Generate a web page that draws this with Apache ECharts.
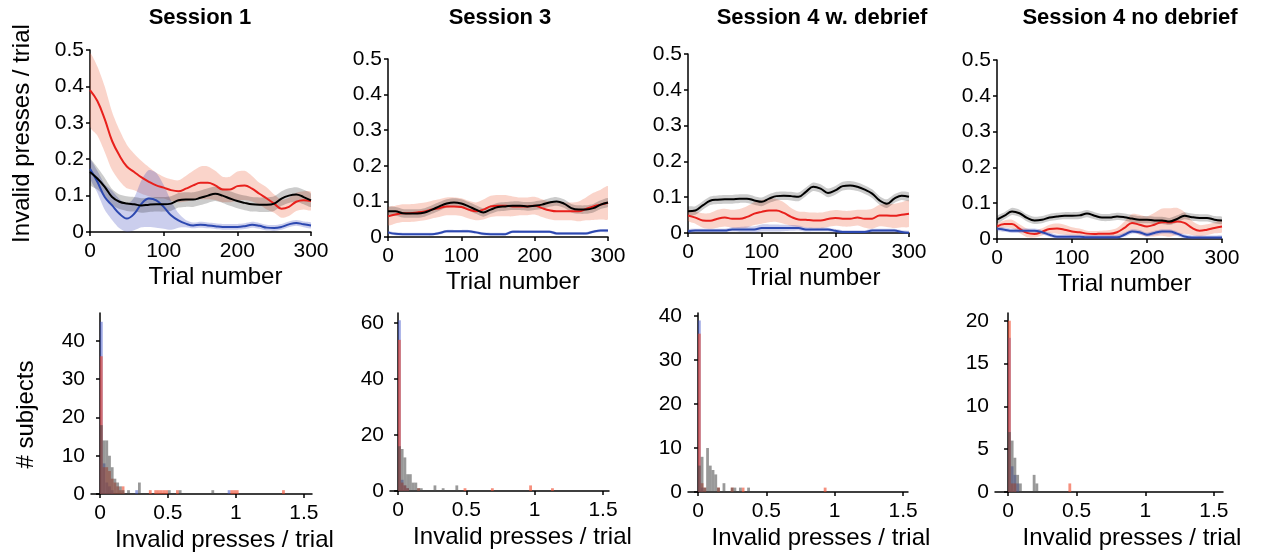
<!DOCTYPE html>
<html>
<head>
<meta charset="utf-8">
<script src="https://cdn.jsdelivr.net/npm/echarts@6/dist/echarts.min.js"></script>
<style>
  html, body { margin: 0; padding: 0; background: #fff; }
  #chart { width: 1261px; height: 559px; }
</style>
</head>
<body>
<div id="chart"></div>
<script>
// trial positions of the smoothed curves
var trials = [0, 10, 20, 30, 40, 50, 60, 70, 80, 90, 100, 110, 120, 130, 140, 150,
  160, 170, 180, 190, 200, 210, 220, 230, 240, 250, 260, 270, 280, 290, 300];

var sessionNames = ['Session 1', 'Session 3', 'Session 4 w. debrief', 'Session 4 no debrief'];

// Session 1
var s1Red = [0.39, 0.36, 0.31, 0.25, 0.21, 0.18, 0.165, 0.15, 0.138, 0.128, 0.122, 0.115, 0.112, 0.119, 0.128, 0.135, 0.135, 0.128, 0.117, 0.117, 0.126, 0.128, 0.119, 0.105, 0.092, 0.078, 0.064, 0.069, 0.083, 0.087, 0.085];
var s1RedSd = [0.1, 0.095, 0.09, 0.08, 0.07, 0.06, 0.05, 0.045, 0.04, 0.035, 0.03, 0.03, 0.03, 0.035, 0.04, 0.045, 0.045, 0.04, 0.035, 0.035, 0.04, 0.04, 0.035, 0.03, 0.03, 0.025, 0.025, 0.025, 0.025, 0.025, 0.025];
var s1Black = [0.165, 0.147, 0.124, 0.096, 0.083, 0.078, 0.076, 0.073, 0.075, 0.076, 0.076, 0.078, 0.087, 0.089, 0.089, 0.094, 0.1, 0.105, 0.1, 0.092, 0.085, 0.08, 0.076, 0.075, 0.075, 0.078, 0.092, 0.1, 0.103, 0.096, 0.087];
var s1BlackSd = [0.035, 0.03, 0.025, 0.022, 0.02, 0.02, 0.02, 0.02, 0.02, 0.02, 0.02, 0.02, 0.02, 0.02, 0.02, 0.02, 0.02, 0.02, 0.02, 0.02, 0.02, 0.02, 0.02, 0.02, 0.02, 0.02, 0.02, 0.02, 0.02, 0.02, 0.018];
var s1Blue = [0.174, 0.138, 0.096, 0.073, 0.05, 0.037, 0.05, 0.078, 0.092, 0.087, 0.069, 0.046, 0.032, 0.023, 0.018, 0.02, 0.018, 0.016, 0.014, 0.014, 0.014, 0.016, 0.02, 0.017, 0.012, 0.011, 0.014, 0.021, 0.025, 0.021, 0.018];
var s1BlueSd = [0.025, 0.03, 0.035, 0.04, 0.04, 0.04, 0.045, 0.065, 0.078, 0.075, 0.06, 0.04, 0.02, 0.01, 0.008, 0.008, 0.008, 0.008, 0.008, 0.008, 0.008, 0.008, 0.008, 0.008, 0.008, 0.008, 0.008, 0.008, 0.008, 0.008, 0.008];

// Session 3
var s3Red = [0.058, 0.063, 0.067, 0.067, 0.069, 0.072, 0.077, 0.081, 0.086, 0.086, 0.084, 0.077, 0.072, 0.077, 0.086, 0.088, 0.088, 0.086, 0.086, 0.086, 0.088, 0.081, 0.075, 0.072, 0.072, 0.072, 0.072, 0.079, 0.086, 0.091, 0.096];
var s3RedSd = [0.025, 0.025, 0.025, 0.025, 0.025, 0.025, 0.025, 0.025, 0.025, 0.025, 0.025, 0.025, 0.025, 0.028, 0.03, 0.03, 0.03, 0.028, 0.025, 0.025, 0.025, 0.025, 0.025, 0.025, 0.025, 0.025, 0.028, 0.032, 0.038, 0.042, 0.046];
var s3Black = [0.072, 0.072, 0.067, 0.066, 0.066, 0.069, 0.077, 0.086, 0.094, 0.097, 0.094, 0.086, 0.077, 0.069, 0.077, 0.084, 0.086, 0.088, 0.088, 0.086, 0.088, 0.091, 0.097, 0.1, 0.094, 0.081, 0.077, 0.077, 0.081, 0.091, 0.097];
var s3BlackSd = [0.012, 0.012, 0.012, 0.012, 0.012, 0.012, 0.012, 0.012, 0.012, 0.012, 0.012, 0.012, 0.012, 0.012, 0.012, 0.012, 0.012, 0.012, 0.012, 0.012, 0.012, 0.012, 0.012, 0.012, 0.012, 0.012, 0.012, 0.012, 0.012, 0.012, 0.012];
var s3Blue = [0.013, 0.009, 0.008, 0.008, 0.008, 0.008, 0.008, 0.011, 0.016, 0.016, 0.016, 0.016, 0.013, 0.009, 0.008, 0.008, 0.008, 0.015, 0.015, 0.015, 0.015, 0.015, 0.015, 0.01, 0.01, 0.01, 0.01, 0.01, 0.015, 0.018, 0.018];
var s3BlueSd = [0.004, 0.004, 0.004, 0.004, 0.004, 0.004, 0.004, 0.004, 0.004, 0.004, 0.004, 0.004, 0.004, 0.004, 0.004, 0.004, 0.004, 0.004, 0.004, 0.004, 0.004, 0.004, 0.004, 0.004, 0.004, 0.004, 0.004, 0.004, 0.004, 0.004, 0.004];

// Session 4 with debrief
var s4wRed = [0.049, 0.043, 0.035, 0.034, 0.04, 0.043, 0.04, 0.04, 0.045, 0.054, 0.059, 0.063, 0.063, 0.056, 0.045, 0.038, 0.037, 0.035, 0.035, 0.039, 0.042, 0.04, 0.04, 0.043, 0.04, 0.04, 0.049, 0.049, 0.048, 0.051, 0.054];
var s4wRedSd = [0.015, 0.017, 0.02, 0.022, 0.025, 0.025, 0.025, 0.027, 0.03, 0.032, 0.033, 0.033, 0.032, 0.03, 0.025, 0.022, 0.022, 0.022, 0.022, 0.022, 0.022, 0.022, 0.022, 0.022, 0.025, 0.028, 0.03, 0.032, 0.034, 0.035, 0.036];
var s4wBlack = [0.061, 0.063, 0.077, 0.09, 0.093, 0.094, 0.094, 0.096, 0.096, 0.091, 0.087, 0.096, 0.103, 0.104, 0.103, 0.101, 0.115, 0.129, 0.124, 0.112, 0.119, 0.131, 0.133, 0.129, 0.121, 0.11, 0.091, 0.082, 0.096, 0.104, 0.101];
var s4wBlackSd = [0.012, 0.012, 0.012, 0.012, 0.012, 0.012, 0.012, 0.012, 0.012, 0.012, 0.012, 0.012, 0.012, 0.012, 0.012, 0.012, 0.012, 0.012, 0.012, 0.012, 0.012, 0.012, 0.012, 0.012, 0.012, 0.012, 0.012, 0.012, 0.012, 0.012, 0.012];
var s4wBlue = [0.005, 0.007, 0.007, 0.007, 0.007, 0.007, 0.01, 0.01, 0.01, 0.01, 0.014, 0.014, 0.014, 0.014, 0.014, 0.014, 0.01, 0.01, 0.01, 0.01, 0.006, 0.003, 0.003, 0.003, 0.003, 0.007, 0.007, 0.007, 0.007, 0.003, 0.001];
var s4wBlueSd = [0.005, 0.005, 0.005, 0.005, 0.005, 0.005, 0.006, 0.007, 0.008, 0.009, 0.01, 0.01, 0.01, 0.009, 0.008, 0.007, 0.006, 0.005, 0.005, 0.005, 0.005, 0.005, 0.005, 0.005, 0.005, 0.005, 0.005, 0.005, 0.005, 0.005, 0.005];

// Session 4 without debrief
var s4nRed = [0.035, 0.042, 0.042, 0.029, 0.017, 0.014, 0.02, 0.028, 0.029, 0.026, 0.021, 0.019, 0.015, 0.014, 0.015, 0.015, 0.019, 0.031, 0.045, 0.04, 0.035, 0.04, 0.047, 0.046, 0.049, 0.045, 0.031, 0.023, 0.026, 0.031, 0.035];
var s4nRedSd = [0.008, 0.01, 0.012, 0.012, 0.012, 0.01, 0.01, 0.012, 0.014, 0.014, 0.012, 0.01, 0.008, 0.008, 0.008, 0.01, 0.012, 0.018, 0.025, 0.028, 0.028, 0.033, 0.038, 0.04, 0.038, 0.03, 0.02, 0.016, 0.015, 0.015, 0.016];
var s4nBlack = [0.054, 0.065, 0.077, 0.072, 0.059, 0.052, 0.054, 0.06, 0.063, 0.065, 0.065, 0.066, 0.071, 0.065, 0.06, 0.06, 0.063, 0.061, 0.057, 0.054, 0.054, 0.052, 0.052, 0.049, 0.056, 0.065, 0.061, 0.059, 0.059, 0.054, 0.052];
var s4nBlackSd = [0.01, 0.01, 0.01, 0.01, 0.01, 0.01, 0.01, 0.01, 0.01, 0.01, 0.01, 0.01, 0.01, 0.01, 0.01, 0.01, 0.01, 0.01, 0.01, 0.01, 0.01, 0.01, 0.01, 0.01, 0.01, 0.01, 0.01, 0.01, 0.01, 0.01, 0.01];
var s4nBlue = [0.029, 0.026, 0.023, 0.023, 0.023, 0.023, 0.019, 0.012, 0.006, 0.006, 0.006, 0.006, 0.005, 0.005, 0.005, 0.005, 0.005, 0.012, 0.021, 0.019, 0.012, 0.017, 0.021, 0.021, 0.015, 0.007, 0.004, 0.004, 0.004, 0.004, 0.004];
var s4nBlueSd = [0.006, 0.006, 0.006, 0.006, 0.006, 0.006, 0.006, 0.006, 0.006, 0.006, 0.006, 0.006, 0.006, 0.006, 0.006, 0.006, 0.006, 0.006, 0.006, 0.006, 0.006, 0.006, 0.006, 0.006, 0.006, 0.006, 0.006, 0.006, 0.006, 0.006, 0.006];

// histograms: [bin left edge, number of subjects], bins of 0.02
var h1Blue = [[0, 45], [0.02, 8], [0.04, 3], [0.06, 2], [0.08, 1], [0.26, 1], [0.94, 1]];
var h1Orange = [[0, 36], [0.02, 7], [0.04, 7], [0.06, 6], [0.08, 4], [0.1, 3], [0.12, 2], [0.14, 1], [0.16, 2], [0.36, 1], [0.4, 1], [0.42, 1], [0.44, 1], [0.46, 1], [0.48, 1], [0.56, 1], [0.96, 1], [0.98, 1], [1.0, 1], [1.34, 1]];
var h1Gray = [[0, 18], [0.02, 14], [0.04, 14], [0.06, 10], [0.08, 7], [0.1, 4], [0.12, 3], [0.14, 2], [0.16, 1], [0.2, 1], [0.28, 3], [0.5, 1], [0.58, 1], [0.82, 1]];

var h3Blue = [[0, 61], [0.02, 4], [0.04, 2], [0.06, 1]];
var h3Orange = [[0, 54], [0.02, 3], [0.04, 2], [0.06, 1], [0.14, 1], [0.48, 1], [0.68, 1], [0.96, 2], [1.12, 1]];
var h3Gray = [[0, 16], [0.02, 15], [0.04, 12], [0.06, 6], [0.08, 6], [0.1, 3], [0.12, 3], [0.14, 1], [0.16, 1], [0.26, 2], [0.32, 1], [0.42, 2]];

var h4wBlue = [[0, 39], [0.02, 1]];
var h4wOrange = [[0, 36], [0.02, 2], [0.04, 1], [0.14, 1], [0.24, 1], [0.32, 1], [0.92, 1]];
var h4wGray = [[0, 6], [0.02, 8], [0.04, 1], [0.06, 10], [0.08, 6], [0.1, 5], [0.12, 4], [0.14, 1], [0.18, 2], [0.24, 1], [0.26, 1], [0.3, 1], [0.36, 1]];

var h4nBlue = [[0, 18], [0.02, 3], [0.04, 2], [0.06, 1]];
var h4nOrange = [[0, 20], [0.02, 1], [0.04, 1], [0.44, 1]];
var h4nGray = [[0, 7], [0.02, 6], [0.04, 4], [0.06, 2], [0.08, 1], [0.18, 2], [0.2, 1]];

var yTicksTop = [0, 0.1, 0.2, 0.3, 0.4, 0.5];
var xTicksTop = [0, 100, 200, 300];
var xTicksHist = [0, 0.5, 1, 1.5];
var yTicksHist = [[0, 10, 20, 30, 40], [0, 20, 40, 60], [0, 10, 20, 30, 40], [0, 5, 10, 15, 20]];

var FONT = '"Liberation Sans", Arial, Helvetica, sans-serif';
var RED = '#e8201c', BLUE = '#2c48b0', BLACK = '#000';
var BIN = 0.02;

// layout of the 8 panels (pixels)
var topBoxes = [
  {left: 90, top: 50, width: 221, height: 182},
  {left: 388, top: 59, width: 220, height: 178},
  {left: 688, top: 54, width: 221, height: 179},
  {left: 997, top: 60, width: 225, height: 179}
];
var botBoxes = [
  {left: 91, top: 313, width: 221, height: 181, xMin: -0.066, xMax: 1.56, yMax: 47.3},
  {left: 390, top: 313, width: 219, height: 178, xMin: -0.059, xMax: 1.544, yMax: 63.6},
  {left: 688, top: 313, width: 220, height: 179, xMin: -0.073, xMax: 1.536, yMax: 40.7},
  {left: 995, top: 313, width: 228, height: 179, xMin: -0.095, xMax: 1.566, yMax: 20.9}
];
var titleCenters = [200, 500, 822, 1130];

var curves = [
  [s1Red, s1RedSd, s1Blue, s1BlueSd, s1Black, s1BlackSd],
  [s3Red, s3RedSd, s3Blue, s3BlueSd, s3Black, s3BlackSd],
  [s4wRed, s4wRedSd, s4wBlue, s4wBlueSd, s4wBlack, s4wBlackSd],
  [s4nRed, s4nRedSd, s4nBlue, s4nBlueSd, s4nBlack, s4nBlackSd]
];
var hists = [
  [h1Blue, h1Orange, h1Gray],
  [h3Blue, h3Orange, h3Gray],
  [h4wBlue, h4wOrange, h4wGray],
  [h4nBlue, h4nOrange, h4nGray]
];

var axisLine = {show: true, lineStyle: {color: '#000', width: 1.5}};
var axisTickStyle = {color: '#000', width: 1.5};
var labelStyle = {color: '#000', fontSize: 21, fontFamily: FONT};
var nameStyle = {color: '#000', fontSize: 24, fontFamily: FONT};

// shaded band (mean +/- sd) drawn as one polygon through the axis scales
function bandSeries(gi, mean, sd, color) {
  return {
    type: 'custom', xAxisIndex: gi, yAxisIndex: gi, silent: true, z: 1, clip: true,
    data: [[trials[0], mean[0]]],
    renderItem: function (params, api) {
      var upper = [], lower = [];
      for (var i = 0; i < trials.length; i++) {
        upper.push(api.coord([trials[i], mean[i] + sd[i]]));
        lower.push(api.coord([trials[i], Math.max(0, mean[i] - sd[i])]));
      }
      return {
        type: 'polygon',
        shape: {points: upper.concat(lower.reverse()), smooth: 0.25},
        style: {fill: color}
      };
    }
  };
}

function meanLine(gi, mean, color, z) {
  var data = [];
  for (var i = 0; i < trials.length; i++) data.push([trials[i], mean[i]]);
  return {type: 'line', xAxisIndex: gi, yAxisIndex: gi, data: data, smooth: 0.4,
    symbol: 'none', silent: true, z: z, lineStyle: {color: color, width: 2}};
}

function histBars(gi, pairs, color) {
  return {type: 'bar', xAxisIndex: gi, yAxisIndex: gi, barWidth: 2.8, barGap: '-100%',
    silent: true, itemStyle: {color: color},
    data: pairs.map(function (p) { return [p[0] + BIN / 2, p[1]]; })};
}

var grids = [], xAxes = [], yAxes = [], series = [], graphics = [];

for (var k = 0; k < 4; k++) {
  var b = topBoxes[k];
  grids.push({left: b.left, top: b.top, width: b.width, height: b.height, outerBoundsMode: 'none'});
  xAxes.push({
    gridIndex: k, type: 'value', min: 0, max: 300, interval: 100,
    axisLine: axisLine, splitLine: {show: false},
    axisTick: {show: true, length: 4, lineStyle: axisTickStyle, customValues: xTicksTop},
    axisLabel: Object.assign({margin: 9, customValues: xTicksTop}, labelStyle),
    name: 'Trial number', nameLocation: 'middle', nameGap: 33,
    nameTextStyle: Object.assign({padding: [0, 0, 0, 30]}, nameStyle)
  });
  yAxes.push({
    gridIndex: k, type: 'value', min: 0, max: 0.5, interval: 0.1,
    axisLine: axisLine, splitLine: {show: false},
    axisTick: {show: true, length: 4, lineStyle: axisTickStyle, customValues: yTicksTop},
    axisLabel: Object.assign({margin: 6, customValues: yTicksTop}, labelStyle),
    name: k === 0 ? 'Invalid presses / trial' : '', nameLocation: 'middle', nameGap: 56,
    nameTextStyle: Object.assign({padding: [0, 0, 0, 15]}, nameStyle)
  });
  var c = curves[k];
  series.push(bandSeries(k, c[0], c[1], 'rgba(240,120,90,0.32)'));
  series.push(bandSeries(k, c[2], c[3], 'rgba(70,80,190,0.28)'));
  series.push(bandSeries(k, c[4], c[5], 'rgba(0,0,0,0.2)'));
  series.push(meanLine(k, c[0], RED, 3));
  series.push(meanLine(k, c[2], BLUE, 3));
  series.push(meanLine(k, c[4], BLACK, 4));

  graphics.push({type: 'text', x: titleCenters[k], y: 18, silent: true,
    style: {text: sessionNames[k], fill: '#000', font: 'bold 22px ' + FONT,
      textAlign: 'center', textVerticalAlign: 'middle'}});
}

for (var m = 0; m < 4; m++) {
  var gi = m + 4, bb = botBoxes[m];
  grids.push({left: bb.left, top: bb.top, width: bb.width, height: bb.height, outerBoundsMode: 'none'});
  xAxes.push({
    gridIndex: gi, type: 'value', min: bb.xMin, max: bb.xMax,
    axisLine: axisLine, splitLine: {show: false},
    axisTick: {show: true, length: 4, lineStyle: axisTickStyle, customValues: xTicksHist},
    axisLabel: Object.assign({margin: 9, customValues: xTicksHist}, labelStyle),
    name: 'Invalid presses / trial', nameLocation: 'middle', nameGap: 34,
    nameTextStyle: Object.assign({padding: [0, 0, 0, 46]}, nameStyle)
  });
  yAxes.push({
    gridIndex: gi, type: 'value', min: 0, max: bb.yMax,
    axisLine: axisLine, splitLine: {show: false},
    axisTick: {show: true, length: 4, lineStyle: axisTickStyle, customValues: yTicksHist[m]},
    axisLabel: Object.assign({margin: 6, customValues: yTicksHist[m]}, labelStyle),
    name: m === 0 ? '# subjects' : '', nameLocation: 'middle', nameGap: 53,
    nameTextStyle: Object.assign({padding: [0, 22, 0, 0]}, nameStyle)
  });
  var h = hists[m];
  series.push(histBars(gi, h[0], 'rgba(60,80,200,0.5)'));
  series.push(histBars(gi, h[1], 'rgba(240,70,40,0.6)'));
  series.push(histBars(gi, h[2], 'rgba(70,70,70,0.55)'));
}

var chart = echarts.init(document.getElementById('chart'), null, {renderer: 'canvas'});
chart.setOption({
  animation: false,
  backgroundColor: '#fff',
  textStyle: {fontFamily: FONT},
  grid: grids,
  xAxis: xAxes,
  yAxis: yAxes,
  series: series,
  graphic: graphics
});
</script>
</body>
</html>
